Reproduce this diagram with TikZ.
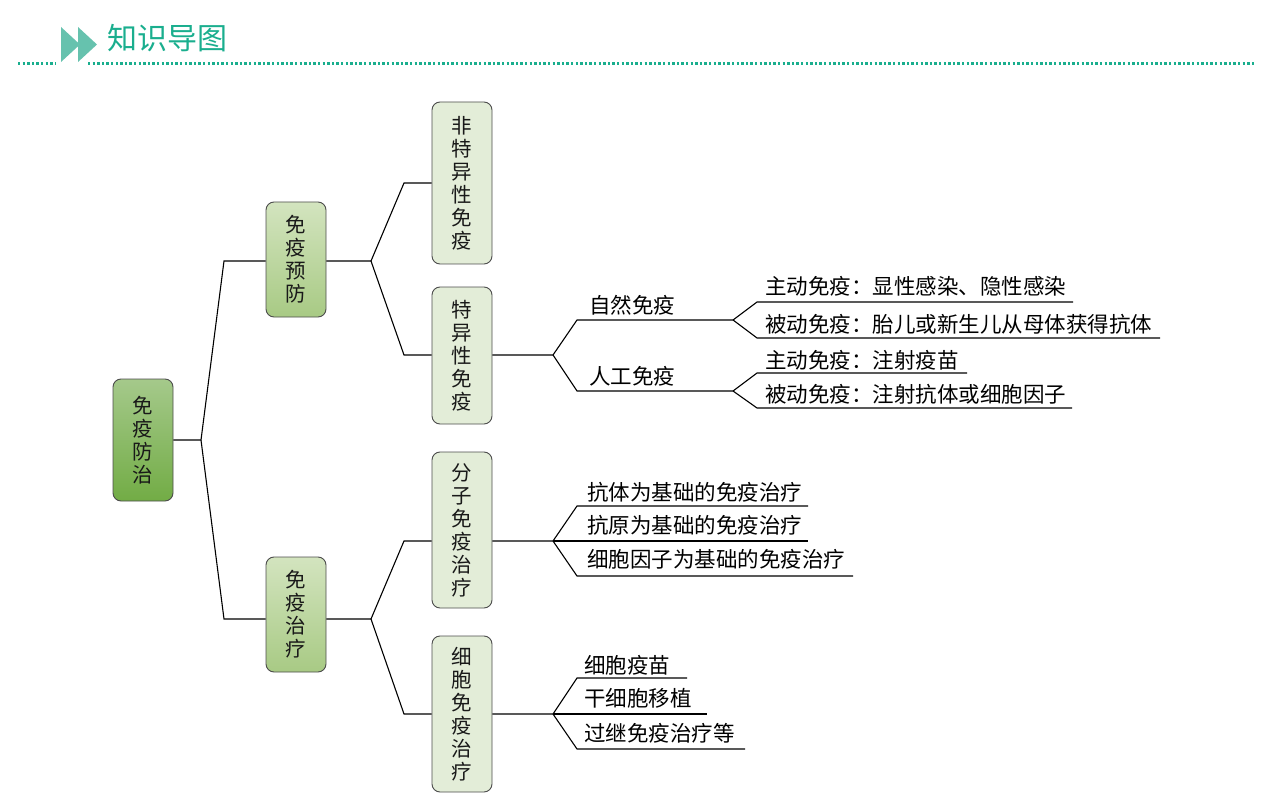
\documentclass[tikz,border=0pt]{standalone}
\usepackage{fontspec}
\newfontfamily\cjk{Noto Sans CJK SC}
\usetikzlibrary{positioning}
\definecolor{teal1}{HTML}{1AAE8E}
\definecolor{tri}{HTML}{66C2AE}
\definecolor{rootT}{HTML}{A5C98B}
\definecolor{rootB}{HTML}{72AC45}
\definecolor{l1T}{HTML}{D3E4BF}
\definecolor{l1B}{HTML}{A8CA84}
\definecolor{l2}{HTML}{E3EDD8}
\tikzset{
  box/.style={draw=black!70, line width=0.9pt, rounded corners=8pt, minimum width=60pt, inner sep=0pt, align=center,
     font=\cjk\fontsize{20.5}{23}\selectfont, text=black!90},
  rootbox/.style={box, top color=rootT, bottom color=rootB},
  lonebox/.style={box, top color=l1T, bottom color=l1B},
  ltwobox/.style={box, fill=l2},
  conn/.style={draw=black, line width=1.1pt},
  lbl/.style={font=\cjk\fontsize{21.5}{23}\selectfont, anchor=west, inner sep=0pt, text=black},
}
\begin{document}
\begin{tikzpicture}[x=1pt,y=-1pt]
\useasboundingbox (0,0) rectangle (1287,810);
% header
\fill[tri] (61,27) -- (80,44.5) -- (61,62) -- cycle;
\fill[tri] (78,27) -- (97,44.5) -- (78,62) -- cycle;
\node[anchor=west, inner sep=0pt, text=teal1, font=\cjk\fontsize{30}{32}\selectfont] (title) at (107,38) {知识导图};
\draw[teal1, line width=2.4pt, dash pattern=on 2.4pt off 2.2pt] (18,63.5) -- (55,63.5);
\draw[teal1, line width=2.4pt, dash pattern=on 2.4pt off 2.2pt] (88,63.5) -- (1254,63.5);

% boxes
\node[rootbox, minimum height=122pt] (root) at (143,440) {免\\疫\\防\\治};
\node[lonebox, minimum height=115pt] (yf) at (296,259.5) {免\\疫\\预\\防};
\node[lonebox, minimum height=115pt] (zl) at (296,614.5) {免\\疫\\治\\疗};
\node[ltwobox, minimum height=162pt] (fty) at (462,183) {非\\特\\异\\性\\免\\疫};
\node[ltwobox, minimum height=137pt] (ty) at (462,355.5) {特\\异\\性\\免\\疫};
\node[ltwobox, minimum height=156pt] (fz) at (462,530) {分\\子\\免\\疫\\治\\疗};
\node[ltwobox, minimum height=156pt] (xb) at (462,714) {细\\胞\\免\\疫\\治\\疗};

% forks
\coordinate (f0) at (201,440);
\coordinate (f1) at (371,261);
\coordinate (f2) at (371,619);
\coordinate (f3) at (553,355);
\coordinate (f4) at (553,541);
\coordinate (f5) at (553,714);
\coordinate (g1) at (733,320);
\coordinate (g2) at (733,391);

\draw[conn] (root.east |- f0) -- (f0) -- (224,261) -- (yf.west |- f1);
\draw[conn] (f0) -- (224,619) -- (zl.west |- f2);
\draw[conn] (yf.east |- f1) -- (f1) -- (404,183) -- (fty.west |- 0,183);
\draw[conn] (f1) -- (404,355) -- (ty.west |- f3);
\draw[conn] (zl.east |- f2) -- (f2) -- (404,541) -- (fz.west |- f4);
\draw[conn] (f2) -- (404,714) -- (xb.west |- f5);

% specific immunity
\draw[conn] (ty.east |- f3) -- (f3) -- (577,320) -- (g1);
\draw[conn] (f3) -- (577,391) -- (g2);
\node[lbl] (zr) at (589,305) {自然免疫};
\node[lbl] (rg) at (589,376) {人工免疫};
\draw[conn] (g1) -- (757,302) -- (1073,302);
\draw[conn] (g1) -- (757,338) -- (1160,338);
\draw[conn] (g2) -- (757,373) -- (967,373);
\draw[conn] (g2) -- (757,408) -- (1072,408);
\node[lbl] (a1) at (765,286) {主动免疫：显性感染、隐性感染};
\node[lbl] (a2) at (765,324) {被动免疫：胎儿或新生儿从母体获得抗体};
\node[lbl] (a3) at (765,360) {主动免疫：注射疫苗};
\node[lbl] (a4) at (765,394) {被动免疫：注射抗体或细胞因子};

% molecular
\draw[conn] (fz.east |- f4) -- (f4) -- (577,506) -- (808,506);
\draw[conn] (f4) -- (808,541);
\draw[conn] (f4) -- (577,576) -- (853,576);
\node[lbl] (b1) at (587,492) {抗体为基础的免疫治疗};
\node[lbl] (b2) at (587,525) {抗原为基础的免疫治疗};
\node[lbl] (b3) at (587,559) {细胞因子为基础的免疫治疗};

% cellular
\draw[conn] (xb.east |- f5) -- (f5) -- (577,678) -- (687,678);
\draw[conn] (f5) -- (707,714);
\draw[conn] (f5) -- (577,749) -- (745,749);
\node[lbl] (c1) at (584,665) {细胞疫苗};
\node[lbl] (c2) at (584,698) {干细胞移植};
\node[lbl] (c3) at (584,733) {过继免疫治疗等};
\end{tikzpicture}
\end{document}
